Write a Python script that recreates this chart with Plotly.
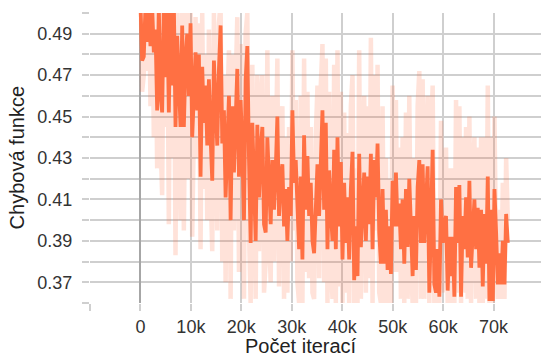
import plotly.graph_objects as go

STEP = 331
smoothed = [
0.505,0.477,0.479,0.503,0.486,0.505,0.484,0.503,0.481,0.492,
0.453,0.503,0.461,0.452,0.503,0.469,0.505,0.452,0.503,0.465,
0.505,0.445,0.489,0.469,0.445,0.494,0.445,0.477,0.490,0.460,
0.495,0.440,0.461,0.481,0.453,0.480,0.421,0.474,0.447,0.465,
0.436,0.468,0.440,0.419,0.477,0.453,0.436,0.473,0.494,0.437,
0.453,0.411,0.440,0.460,0.400,0.455,0.423,0.445,0.473,0.421,
0.458,0.434,0.400,0.468,0.484,0.429,0.389,0.447,0.421,0.390,
0.446,0.411,0.434,0.445,0.398,0.394,0.440,0.418,0.398,0.429,
0.405,0.424,0.450,0.402,0.421,0.427,0.397,0.415,0.390,0.416,
0.402,0.453,0.418,0.429,0.400,0.386,0.421,0.381,0.441,0.405,
0.431,0.402,0.418,0.390,0.384,0.411,0.427,0.402,0.434,0.453,
0.405,0.447,0.386,0.424,0.405,0.390,0.434,0.386,0.440,0.397,
0.428,0.381,0.418,0.389,0.411,0.381,0.415,0.433,0.371,0.397,
0.373,0.432,0.387,0.405,0.423,0.390,0.421,0.398,0.432,0.386,
0.429,0.411,0.437,0.394,0.379,0.415,0.379,0.405,0.376,0.397,
0.374,0.419,0.397,0.423,0.397,0.408,0.386,0.410,0.379,0.415,
0.387,0.420,0.398,0.373,0.402,0.376,0.416,0.429,0.389,0.427,
0.389,0.410,0.426,0.365,0.402,0.434,0.369,0.365,0.386,0.363,
0.410,0.389,0.398,0.402,0.366,0.392,0.373,0.392,0.363,0.416,
0.389,0.417,0.363,0.402,0.386,0.411,0.382,0.419,0.377,0.397,
0.410,0.386,0.406,0.377,0.405,0.368,0.403,0.379,0.421,0.361,
0.405,0.361,0.415,0.394,0.369,0.384,0.369,0.390,0.369,0.403,
0.389,
]
raw = [
0.520,0.462,0.470,0.520,0.472,0.520,0.455,0.520,0.440,0.505,
0.425,0.520,0.440,0.412,0.520,0.445,0.520,0.398,0.520,0.430,
0.515,0.383,0.505,0.445,0.400,0.510,0.395,0.480,0.505,0.420,
0.510,0.392,0.450,0.498,0.430,0.495,0.386,0.500,0.415,0.480,
0.400,0.492,0.415,0.385,0.500,0.430,0.395,0.495,0.505,0.380,
0.470,0.370,0.455,0.482,0.362,0.480,0.395,0.465,0.498,0.375,
0.485,0.415,0.362,0.490,0.500,0.395,0.360,0.475,0.400,0.362,
0.470,0.385,0.455,0.470,0.365,0.380,0.482,0.395,0.370,0.460,
0.380,0.450,0.478,0.368,0.445,0.455,0.362,0.440,0.365,0.445,
0.380,0.482,0.395,0.458,0.370,0.360,0.460,0.360,0.478,0.375,
0.462,0.372,0.445,0.365,0.362,0.440,0.465,0.372,0.465,0.485,
0.370,0.478,0.360,0.462,0.380,0.362,0.475,0.360,0.482,0.368,
0.462,0.360,0.452,0.365,0.442,0.360,0.455,0.470,0.360,0.425,
0.360,0.482,0.362,0.430,0.460,0.365,0.455,0.372,0.488,0.360,
0.470,0.395,0.475,0.365,0.360,0.455,0.360,0.430,0.360,0.420,
0.360,0.465,0.375,0.458,0.375,0.435,0.362,0.440,0.360,0.452,
0.362,0.460,0.378,0.360,0.430,0.360,0.455,0.472,0.362,0.468,
0.362,0.435,0.460,0.360,0.440,0.465,0.360,0.360,0.410,0.360,
0.448,0.365,0.420,0.435,0.360,0.425,0.360,0.425,0.360,0.458,
0.365,0.455,0.360,0.440,0.365,0.445,0.362,0.450,0.360,0.420,
0.440,0.362,0.435,0.360,0.440,0.360,0.440,0.362,0.465,0.360,
0.440,0.360,0.450,0.385,0.362,0.405,0.362,0.418,0.362,0.430,
0.400,
]
steps = [i * STEP for i in range(len(smoothed))]

x_tickvals = [-10000, 0, 10000, 20000, 30000, 40000, 50000, 60000, 70000]
x_ticktext = ["", "0", "10k", "20k", "30k", "40k", "50k", "60k", "70k"]
y_tickvals = [0.36, 0.37, 0.38, 0.39, 0.40, 0.41, 0.42, 0.43, 0.44, 0.45, 0.46, 0.47, 0.48, 0.49, 0.50]
y_ticktext = ["", "0.37", "", "0.39", "", "0.41", "", "0.43", "", "0.45", "", "0.47", "", "0.49", ""]

ORANGE = "#ff7043"
fig = go.Figure()
fig.add_trace(go.Scatter(x=steps, y=raw, mode="lines",
                         line=dict(color="rgba(255,112,67,0.2)", width=4.5),
                         hoverinfo="skip", showlegend=False))
fig.add_trace(go.Scatter(x=steps, y=smoothed, mode="lines",
                         line=dict(color=ORANGE, width=3.8),
                         showlegend=False))

FONT = "Liberation Sans, Arial, sans-serif"
fig.update_layout(
    width=541, height=358,
    margin=dict(l=90, r=0, t=13, b=55),
    paper_bgcolor="white", plot_bgcolor="white",
    font=dict(family=FONT, size=18, color="#333333"),
    xaxis=dict(range=[-10000, 79400], tickmode="array", tickvals=x_tickvals, ticktext=x_ticktext,
               showgrid=True, gridcolor="#cfcfcf", gridwidth=1.5,
               zeroline=True, zerolinecolor="#a6a6a6", zerolinewidth=2,
               ticks="outside", ticklen=7, tickcolor="#cfcfcf", tickwidth=1.5,
               showline=False, tickfont=dict(size=18)),
    yaxis=dict(range=[0.36, 0.50], tickmode="array", tickvals=y_tickvals, ticktext=y_ticktext,
               showgrid=True, gridcolor="#cfcfcf", gridwidth=1.5, zeroline=False,
               ticks="outside", ticklen=7, tickcolor="#cfcfcf", tickwidth=1.5,
               ticklabelstandoff=6, showline=False, tickfont=dict(size=18)),
    annotations=[
        dict(text="Počet iterací", xref="paper", yref="paper", x=0.468, y=-0.148,
             xanchor="center", yanchor="middle", showarrow=False, font=dict(size=20, color="#222222")),
        dict(text="Chybová funkce", xref="paper", yref="paper", x=-0.161, y=0.5, textangle=-90,
             xanchor="center", yanchor="middle", showarrow=False, font=dict(size=20, color="#222222")),
    ],
)
fig.write_html("out.html")
